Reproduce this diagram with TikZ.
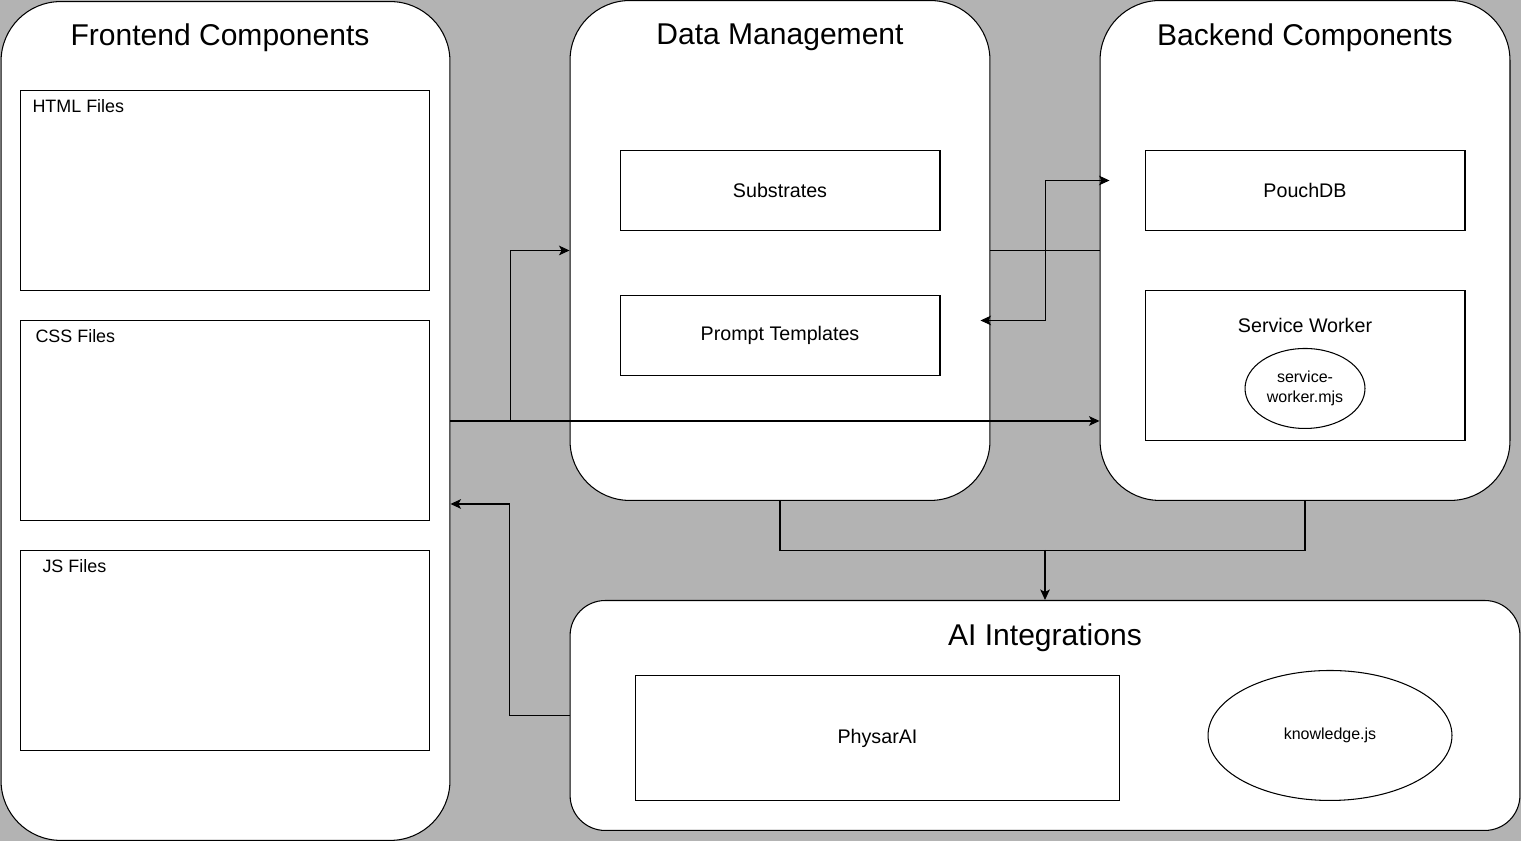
\documentclass[tikz,border=0pt]{standalone}
\usepackage{fontspec}
\setmainfont{Liberation Sans}
\usetikzlibrary{arrows.meta,shapes.geometric,calc}

\definecolor{canvas}{HTML}{B3B3B3}

\begin{document}
\begin{tikzpicture}[x=0.02cm,y=-0.02cm,line width=0.6pt,
    group/.style={draw,fill=white,rounded corners=34pt},
    item/.style={draw,fill=white,font=\fontsize{11.2}{13}\selectfont},
    blob/.style={draw,ellipse,fill=white,align=center,inner sep=0pt,font=\fontsize{9.1}{11}\selectfont},
    title/.style={inner sep=0pt,font=\fontsize{17.1}{20}\selectfont},
    tag/.style={anchor=west,inner sep=0pt,font=\fontsize{10.2}{12}\selectfont},
    arr/.style={-{Stealth[length=6pt,width=5.5pt,inset=1.5pt]}},
    twoway/.style={{Stealth[length=6pt,width=5.5pt,inset=1.5pt]}-{Stealth[length=6pt,width=5.5pt,inset=1.5pt]}}]
                \fill[canvas] (0,0) rectangle (1521,841);
                % groups
                \node[group,minimum width=8.98cm,minimum height=16.78cm] (front) at (225.5,420.5) {};
                \node[group,minimum width=8.4cm,minimum height=10cm] (dm) at (780,250) {};
                \node[group,minimum width=8.2cm,minimum height=10cm] (back) at (1305,250) {};
                \node[group,rounded corners=20pt,minimum width=19cm,minimum height=4.6cm] (ai) at (1045,715) {};
                \node[title] (fronttitle) at (220,37) {Frontend Components};
                \node[title] (dmtitle) at (780,37) {Data Management};
                \node[title] (backtitle) at (1305,37) {Backend Components};
                \node[title] (aititle) at (1045,637) {AI Integrations};
                % frontend files
                \node[item,minimum width=8.2cm,minimum height=4cm] (html) at (225,190) {};
                \node[item,minimum width=8.2cm,minimum height=4cm] (css) at (225,420) {};
                \node[item,minimum width=8.2cm,minimum height=4cm] (js) at (225,650) {};
                \node[tag] (htmltag) at (32,106) {HTML Files};
                \node[tag] (csstag) at (35,336) {CSS Files};
                \node[tag] (jstag) at (42,566) {JS Files};
                % data and backend
                \node[item,minimum width=6.4cm,minimum height=1.6cm] (subs) at (780,190) {Substrates};
                \node[item,minimum width=6.4cm,minimum height=1.6cm] (prompts) at (780,335) {Prompt Templates};
                \node[item,minimum width=6.4cm,minimum height=1.6cm] (pouch) at (1305,190) {PouchDB};
                \node[item,minimum width=6.4cm,minimum height=3cm] (sw) at (1305,365) {};
                \node[item,draw=none,fill=none] (swtag) at (1305,325) {Service Worker};
                \node[blob,minimum width=2.4cm,minimum height=1.6cm] (swfile) at (1305,388) {service-\\worker.mjs};
                % ai
                \node[item,minimum width=9.7cm,minimum height=2.5cm] (physar) at (877.5,737.5) {PhysarAI};
                \node[blob,minimum width=4.88cm,minimum height=2.6cm] (know) at (1330,735) {knowledge.js};
                % connectors
                \draw[arr] (front.east) -- (front.east -| back.west);
                \draw[arr] (front.east) ++(60,0) |- (dm.west);
                \draw[arr] (ai.west) -- ++(-60,0) |- ($(front.east)+(0,83)$);
                \draw (dm.east) -- (back.west);
                \draw[twoway] ($(dm.east)+(-10,70)$) -- ++(65,0) |- ($(back.west)+(10,-70)$);
                \draw (dm.south) -- ++(0,50) -| (back.south);
                \draw[arr] (ai.north) ++(0,-50) -- (ai.north);
            \end{tikzpicture}
\end{document}
